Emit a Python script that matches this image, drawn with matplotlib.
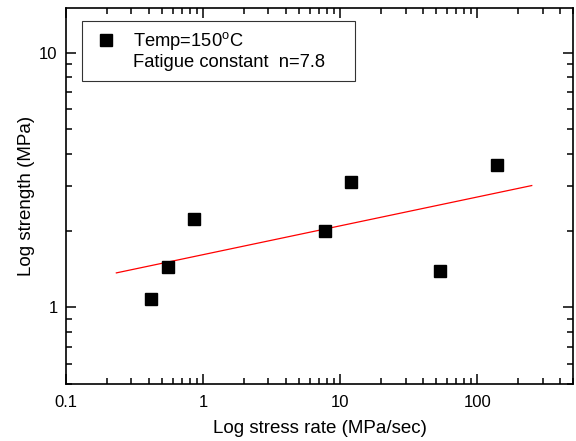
import matplotlib
matplotlib.use("Agg")
import matplotlib.pyplot as plt
from matplotlib.lines import Line2D
from matplotlib.ticker import LogLocator, NullFormatter, FixedLocator, FixedFormatter

plt.rcParams["font.family"] = ["Liberation Sans", "DejaVu Sans"]
plt.rcParams["mathtext.default"] = "regular"

# measured points (stress rate, strength)
rate = [0.416, 0.553, 0.86, 7.73, 12.0, 53.8, 139.6]
strength = [1.08, 1.44, 2.23, 2.0, 3.11, 1.39, 3.63]

# fitted line endpoints
fit_rate = [0.233, 250]
fit_strength = [1.366, 3.01]

fig = plt.figure(figsize=(5.76, 4.41), dpi=100)
ax = fig.add_axes([66 / 576, 1 - 384 / 441, (573 - 66) / 576, (384 - 8) / 441])

ax.plot(fit_rate, fit_strength, "-", color="red", lw=0.9)
ax.plot(rate, strength, "s", color="black", ms=8, mec="black")

ax.set_xscale("log")
ax.set_yscale("log")
ax.set_xlim(0.1, 500)
ax.set_ylim(0.5, 15)

ax.xaxis.set_major_locator(FixedLocator([0.1, 1, 10, 100]))
ax.xaxis.set_major_formatter(FixedFormatter(["0.1", "1", "10", "100"]))
ax.xaxis.set_minor_locator(LogLocator(base=10, subs=range(2, 10)))
ax.xaxis.set_minor_formatter(NullFormatter())
ax.yaxis.set_major_locator(FixedLocator([1, 10]))
ax.yaxis.set_major_formatter(FixedFormatter(["1", "10"]))
ax.yaxis.set_minor_locator(LogLocator(base=10, subs=range(2, 10)))
ax.yaxis.set_minor_formatter(NullFormatter())

ax.tick_params(which="both", direction="in", top=True, right=True,
               labelsize=12, width=1.1)
ax.tick_params(which="major", length=7, pad=6)
ax.tick_params(axis="x", which="major", pad=8)
ax.tick_params(which="minor", length=4)
for s in ax.spines.values():
    s.set_linewidth(1.2)

ax.set_xlabel("Log stress rate (MPa/sec)", fontsize=13.5, labelpad=7)
ax.set_ylabel("Log strength (MPa)", fontsize=13.5, labelpad=3)

handles = [
    Line2D([], [], ls="none", marker="s", color="black", ms=8),
    Line2D([], [], ls="none", marker="none"),
]
labels = ["Temp=150$^{o}$C", "Fatigue constant  n=7.8    "]
leg = ax.legend(handles, labels, loc="upper left",
                bbox_to_anchor=(16 / 507, 1 - 13 / 376), fontsize=13.2,
                frameon=True, fancybox=False, borderpad=0.5,
                handletextpad=0.7, labelspacing=0.12, handlelength=1.6,
                borderaxespad=0)
leg.get_frame().set_edgecolor("black")
leg.get_frame().set_linewidth(0.8)

fig.savefig("out.png", dpi=100)
